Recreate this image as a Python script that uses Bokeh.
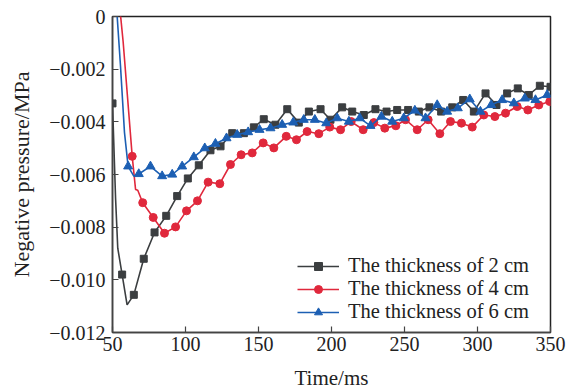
from bokeh.plotting import figure
from bokeh.models import Range1d, Legend, LegendItem, CustomJSTickFormatter, FixedTicker
from bokeh.embed import file_html
from bokeh.resources import INLINE

# ---------------- data ----------------
x_ticks = [50, 100, 150, 200, 250, 300, 350]
y_ticks = [-0.012, -0.010, -0.008, -0.006, -0.004, -0.002, 0.0]

labels = ["The thickness of 2 cm", "The thickness of 4 cm", "The thickness of 6 cm"]

# 2 cm – marked points
t2_x = [50, 56.6, 64.6, 71.4, 78.8, 86.8, 94.3, 101.6, 109.1, 117.1, 124, 132, 140, 146.8,
        153.6, 161.6, 169.7, 177.6, 184.5, 192.5, 199.3, 207.3, 214.2, 222.1, 230.1, 237.7,
        245, 252.5, 259.8, 267.1, 275.1, 282.7, 290.2, 297.5, 305.5, 313, 320.3, 327.6,
        335.1, 342.7, 350]
t2_y = [-0.0033, -0.0098, -0.01057, -0.0092, -0.0082, -0.00757, -0.00682, -0.00615, -0.00565,
        -0.00508, -0.00493, -0.00443, -0.00443, -0.00421, -0.0039, -0.00411, -0.00352,
        -0.00403, -0.00361, -0.00352, -0.00392, -0.00345, -0.00361, -0.00374, -0.00352,
        -0.00361, -0.00355, -0.00355, -0.00361, -0.00345, -0.00361, -0.00345, -0.00317,
        -0.00361, -0.00292, -0.00336, -0.00292, -0.00273, -0.00298, -0.00263, -0.00267]
# 2 cm – line-only points
t2_ex = [52.1, 53.6, 60.0]
t2_ey = [-0.0069, -0.0088, -0.01095]

# 4 cm – marked points
t4_x = [63.5, 70.7, 77.9, 85.6, 93.2, 100.7, 108.2, 115.5, 123.5, 130.8, 138.1, 145.7, 153.2,
        160.5, 169, 176, 183.3, 191.3, 198.8, 206.2, 213.5, 221.7, 229, 236.5, 244.1, 250.7,
        258.7, 266.2, 274.2, 281.5, 289, 296.4, 304.3, 311.9, 319.2, 327.2, 334.5, 342, 349.5]
t4_y = [-0.00531, -0.00707, -0.00763, -0.00823, -0.00799, -0.00738, -0.00700, -0.00629,
        -0.00635, -0.00562, -0.00525, -0.00518, -0.0048, -0.00499, -0.00455, -0.00468,
        -0.00437, -0.00445, -0.0042, -0.0043, -0.00399, -0.0043, -0.00403, -0.00424,
        -0.00415, -0.00392, -0.0043, -0.00392, -0.00445, -0.00399, -0.00405, -0.0042,
        -0.00374, -0.0038, -0.00367, -0.00342, -0.00355, -0.00336, -0.00323]
t4_ex = [54.7, 57.3, 65.8, 67.3]
t4_ey = [0.0005, -0.00097, -0.00657, -0.0066]

# 6 cm – marked points
t6_x = [60.7, 68, 76, 84, 90.9, 97.7, 105.7, 113.2, 120.5, 128.1, 135.4, 142.9, 150.7, 158.2,
        166.2, 173.8, 181, 188.6, 196.4, 203.9, 211.9, 219.4, 226.7, 234.2, 241.6, 249.5,
        257.1, 264.4, 272.4, 279.2, 286.5, 294.7, 302, 309.4, 316.9, 324.9, 332.4, 339.7, 347.7]
t6_y = [-0.00569, -0.00598, -0.00569, -0.00606, -0.006, -0.00569, -0.00534, -0.005, -0.00483,
        -0.00462, -0.00449, -0.00439, -0.0043, -0.00424, -0.00411, -0.00402, -0.00392,
        -0.00392, -0.00405, -0.00386, -0.00399, -0.00386, -0.00415, -0.0038, -0.00399,
        -0.00386, -0.00357, -0.00386, -0.00336, -0.00361, -0.00348, -0.00314, -0.00361,
        -0.00336, -0.00317, -0.00329, -0.00311, -0.00317, -0.00298]
t6_ex = [52.6, 55.5, 58.2, 64.6]
t6_ey = [0.0005, -0.0019, -0.0044, -0.00606]

# ---------------- figure ----------------
FONT = "Liberation Serif"
colors = ["#3b3e40", "#e0283c", "#1c5fb3"]
markers = ["square", "circle", "triangle"]
msizes = [7, 8, 9]
legend_rows_y = [55, 32, 9]   # screen offsets of the stacked legend rows

p = figure(width=566, height=392, output_backend="svg", toolbar_location=None,
           x_range=Range1d(50, 350), y_range=Range1d(-0.012, 0),
           min_border_left=112, min_border_right=16, min_border_top=16,
           min_border_bottom=58, background_fill_color="white",
           border_fill_color="white")
p.xgrid.visible = False
p.ygrid.visible = False
p.outline_line_color = "#222222"
p.outline_line_width = 1.5

for ax in (p.xaxis[0], p.yaxis[0]):
    ax.axis_line_color = "#444444"
    ax.axis_line_width = 1.5
    ax.major_tick_line_color = "#444444"
    ax.major_tick_line_width = 1.2
    ax.major_tick_in = 6
    ax.major_tick_out = 0
    ax.minor_tick_line_color = None
    ax.major_label_text_font = FONT
    ax.major_label_text_font_size = "20px"
    ax.major_label_text_color = "#222222"
    ax.axis_label_text_font = FONT
    ax.axis_label_text_font_style = "normal"
    ax.axis_label_text_color = "#222222"

p.xaxis.axis_label_text_font_size = "21px"
p.yaxis.axis_label_text_font_size = "22px"
p.xaxis.ticker = FixedTicker(ticks=x_ticks)
p.yaxis.ticker = FixedTicker(ticks=y_ticks)
p.yaxis.formatter = CustomJSTickFormatter(
    code="return tick == 0 ? '0' : '\u2212' + Math.abs(tick).toFixed(3);")
p.xaxis.axis_label = "Time/ms"
p.yaxis.axis_label = "Negative pressure/MPa"
p.xaxis.major_label_standoff = 4
p.yaxis.major_label_standoff = 7
p.xaxis.axis_label_standoff = 12
p.yaxis.axis_label_standoff = 12

series = [(t2_x, t2_y, t2_ex, t2_ey), (t4_x, t4_y, t4_ex, t4_ey), (t6_x, t6_y, t6_ex, t6_ey)]
for (mx, my, ex, ey), c, m, s, lab, ry in zip(series, colors, markers, msizes, labels,
                                             legend_rows_y):
    pts = sorted(list(zip(mx, my)) + list(zip(ex, ey)))
    lx = [a for a, _ in pts]
    ly = [b for _, b in pts]
    lr = p.line(lx, ly, line_color=c, line_width=1.6)
    sr = p.scatter(mx, my, marker=m, size=s, fill_color=c, line_color=c)
    leg = Legend(items=[LegendItem(label=lab, renderers=[lr, sr])], location=(185, ry),
                 padding=0, margin=0, spacing=0,
                 glyph_width=42, glyph_height=20, label_height=20, label_standoff=9,
                 border_line_color=None, background_fill_alpha=0,
                 label_text_font=FONT, label_text_font_size="20.5px",
                 label_text_color="#222222")
    p.add_layout(leg, "center")

open("out.html", "w").write(file_html(p, INLINE))
